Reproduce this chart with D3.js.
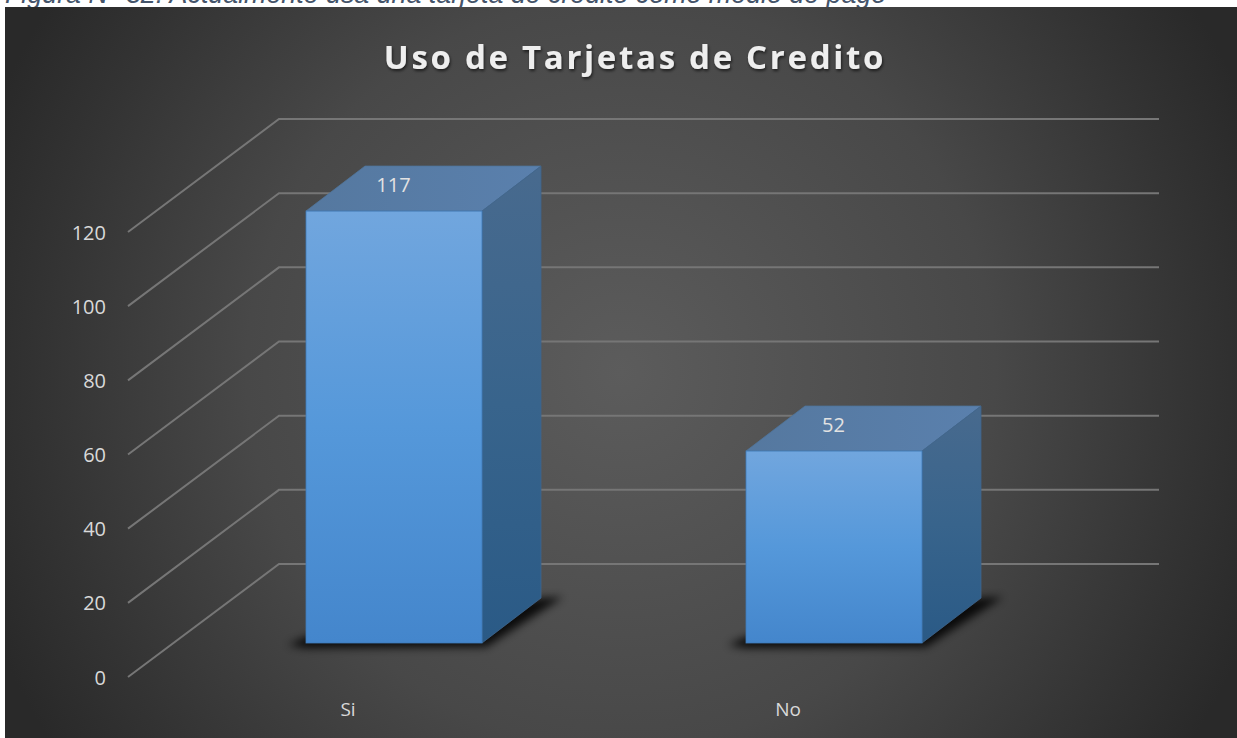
<!DOCTYPE html>
<html><head><meta charset="utf-8">
<script src="https://cdn.jsdelivr.net/npm/d3@7"></script>
<style>html,body{margin:0;padding:0;background:#fff;overflow:hidden}svg{display:block}</style>
</head><body><div id="c"></div>
<script>
const categories = ["Si","No"];
const values = [117,52];
const yTicks = [0,20,40,60,80,100,120];
const titleText = "Uso de Tarjetas de Credito";
const captionText = "Figura N° 32: Actualmente usa una tarjeta de crédito como medio de pago";

const W=1237,H=738;
const svg=d3.select("#c").append("svg").attr("width",W).attr("height",H);
const defs=svg.append("defs");

const bg=defs.append("radialGradient").attr("id","bg").attr("gradientUnits","userSpaceOnUse")
 .attr("cx",621).attr("cy",372).attr("r",680);
[[0,"#5c5c5c"],[.55,"#484848"],[.85,"#333333"],[1,"#292929"]].forEach(d=>bg.append("stop").attr("offset",d[0]).attr("stop-color",d[1]));

const front=defs.append("linearGradient").attr("id","front").attr("x1",0).attr("x2",0).attr("y1",0).attr("y2",1);
[[0,"#71a6de"],[.5,"#5598da"],[1,"#4486cc"]].forEach(d=>front.append("stop").attr("offset",d[0]).attr("stop-color",d[1]));
const side=defs.append("linearGradient").attr("id","side").attr("x1",0).attr("x2",0).attr("y1",0).attr("y2",1);
[[0,"#486a8e"],[.5,"#38648c"],[1,"#2a5a86"]].forEach(d=>side.append("stop").attr("offset",d[0]).attr("stop-color",d[1]));
const top_=defs.append("linearGradient").attr("id","topf").attr("x1",0).attr("x2",1).attr("y1",0).attr("y2",0);
[[0,"#55789f"],[1,"#5a80ad"]].forEach(d=>top_.append("stop").attr("offset",d[0]).attr("stop-color",d[1]));
defs.append("filter").attr("id","blur").attr("x","-20%").attr("y","-20%").attr("width","140%").attr("height","140%")
 .append("feGaussianBlur").attr("stdDeviation",4);
const ts=defs.append("filter").attr("id","tshadow");
ts.append("feDropShadow").attr("dx",1).attr("dy",2).attr("stdDeviation",1.5).attr("flood-color","#000").attr("flood-opacity",.6);

svg.append("text").attr("x",5).attr("y",3).attr("font-family","Liberation Sans, Arial").attr("font-style","italic")
 .attr("font-size",26.8).attr("fill","#44546a").text(captionText);
svg.append("rect").attr("x",5).attr("y",7).attr("width",W-5).attr("height",H-7).attr("fill","url(#bg)");

// Scales
const yBack=d3.scaleLinear().domain([0,120]).range([564,119]);
const yFront=d3.scaleLinear().domain([0,120]).range([677,232]);
const baseY=643, depthX=59, depthY=45;
const yBar=d3.scaleLinear().domain([0,120]).range([baseY,baseY-443]);
const x=d3.scaleBand().domain(categories).range([174,1054]).paddingInner(.6).paddingOuter(.3);
const bw=x.bandwidth();
const xLeft=128,xWall=279,xRight=1159;

// Gridlines
const grid=svg.append("g").attr("fill","none").attr("stroke","#767676").attr("stroke-width",2);
grid.selectAll("path").data(yTicks).join("path")
 .attr("d",d=>d3.line()([[xLeft,yFront(d)],[xWall,yBack(d)],[xRight,yBack(d)]]));

// Y axis labels
svg.append("g").selectAll("text").data(yTicks).join("text")
 .attr("x",106).attr("y",d=>yFront(d)+7.5).attr("text-anchor","end")
 .attr("font-family","Open Sans, sans-serif").attr("font-size",20).attr("fill","#d9d9d9").text(d=>d);

// Bars
const bars=svg.append("g").selectAll("g").data(categories.map((c,i)=>({c,v:values[i]}))).join("g");
bars.each(function(d){
  const g=d3.select(this), x0=x(d.c), x1=x0+bw, yt=yBar(d.v);
  g.append("path").attr("filter","url(#blur)").attr("fill","#000").attr("opacity",.85)
    .attr("d",d3.line()([[x0-18,baseY+2],[x0,baseY-6],[x1+depthX,baseY-depthY],[x1+depthX+22,baseY-depthY-1],[x1+4,baseY+4],[x0,baseY+5]]));
  g.append("path").attr("fill","url(#topf)").attr("stroke","#4f7399").attr("stroke-width",.8)
    .attr("d",d3.line()([[x0,yt],[x1,yt],[x1+depthX,yt-depthY],[x0+depthX,yt-depthY]])+"Z");
  g.append("path").attr("fill","url(#side)").attr("stroke","#40668d").attr("stroke-width",.8)
    .attr("d",d3.line()([[x1,yt],[x1+depthX,yt-depthY],[x1+depthX,baseY-depthY],[x1,baseY]])+"Z");
  g.append("rect").attr("x",x0).attr("y",yt).attr("width",bw).attr("height",baseY-yt)
    .attr("fill","url(#front)").attr("stroke","#3f7bb8").attr("stroke-width",.8);
  g.append("text").attr("x",x0+87.5).attr("y",yt-19).attr("text-anchor","middle")
    .attr("font-family","Open Sans, sans-serif").attr("font-size",20).attr("fill","#e2e2e2").text(d.v);
  g.append("text").attr("x",x0+42).attr("y",716).attr("text-anchor","middle")
    .attr("font-family","Open Sans, sans-serif").attr("font-size",19).attr("fill","#d9d9d9").text(d.c);
});

// Title
svg.append("text").attr("x",635).attr("y",69).attr("text-anchor","middle")
 .attr("font-family","Open Sans, sans-serif").attr("font-weight",700).attr("font-size",33)
 .attr("letter-spacing",2.7).attr("fill","#eeeeee").attr("filter","url(#tshadow)").text(titleText);
</script></body></html>
